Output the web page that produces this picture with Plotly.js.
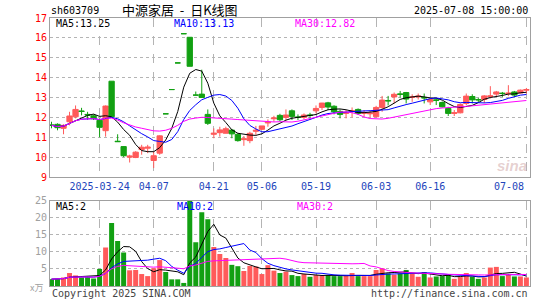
<!DOCTYPE html>
<html><head><meta charset="utf-8">
<script src="https://cdn.plot.ly/plotly-3.0.1.min.js"></script>
<style>html,body{margin:0;padding:0;background:#fff}#chart{width:545px;height:300px}</style>
</head><body><div id="chart"></div>
<script>
const dates = ['2025-03-12','2025-03-13','2025-03-14','2025-03-17','2025-03-18','2025-03-19','2025-03-20','2025-03-21','2025-03-24','2025-03-25',
'2025-03-26','2025-03-27','2025-03-28','2025-03-31','2025-04-01','2025-04-02','2025-04-03','2025-04-07','2025-04-08','2025-04-09',
'2025-04-10','2025-04-11','2025-04-14','2025-04-15','2025-04-16','2025-04-17','2025-04-18','2025-04-21','2025-04-22','2025-04-23',
'2025-04-24','2025-04-25','2025-04-28','2025-04-29','2025-04-30','2025-05-06','2025-05-07','2025-05-08','2025-05-09','2025-05-12',
'2025-05-13','2025-05-14','2025-05-15','2025-05-16','2025-05-19','2025-05-20','2025-05-21','2025-05-22','2025-05-23','2025-05-26',
'2025-05-27','2025-05-28','2025-05-29','2025-05-30','2025-06-03','2025-06-04','2025-06-05','2025-06-06','2025-06-09','2025-06-10',
'2025-06-11','2025-06-12','2025-06-13','2025-06-16','2025-06-17','2025-06-18','2025-06-19','2025-06-20','2025-06-23','2025-06-24',
'2025-06-25','2025-06-26','2025-06-27','2025-06-30','2025-07-01','2025-07-02','2025-07-03','2025-07-04','2025-07-07','2025-07-08'];

const openP = [11.62,11.65,11.45,11.78,12.03,12.32,12.15,12.08,11.85,11.33,
13.82,10.80,10.53,10.00,9.98,10.38,10.45,9.83,10.20,12.18,
13.40,14.74,16.21,16.03,13.12,13.17,12.15,11.15,11.23,11.20,
11.36,11.15,10.88,10.83,11.30,11.40,11.72,11.93,12.10,12.00,
12.33,12.02,12.00,12.12,12.33,12.50,12.73,12.56,12.30,12.20,
12.30,12.40,12.20,12.18,12.03,12.50,12.85,13.03,13.18,13.25,
13.00,13.03,13.00,12.78,12.88,12.75,12.45,12.20,12.23,12.70,
13.05,12.90,12.90,13.05,13.17,13.22,13.20,13.28,13.23,13.37];
const highP = [11.78,11.70,11.65,12.28,12.60,12.48,12.28,12.15,11.95,12.60,
13.82,11.15,10.56,10.12,10.30,10.62,10.62,10.28,11.10,12.18,
13.40,14.74,16.21,16.03,13.30,14.40,12.40,11.45,11.53,11.53,
11.42,11.20,11.06,11.28,11.57,11.57,11.90,12.08,12.18,12.40,
12.40,12.15,12.20,12.23,12.60,12.73,12.78,12.61,12.40,12.37,
12.50,12.45,12.37,12.33,12.58,13.08,13.08,13.25,13.33,13.28,
13.16,13.20,13.20,12.95,12.95,12.80,12.53,12.37,12.70,13.20,
13.16,12.98,13.12,13.57,13.33,13.28,13.62,13.33,13.40,13.48];
const lowP = [11.45,11.35,11.15,11.60,11.95,12.10,11.88,11.87,11.00,11.03,
12.00,10.78,10.00,9.73,9.95,10.12,10.20,9.45,10.12,12.18,
13.40,14.74,16.21,14.57,13.12,13.00,11.62,10.95,11.03,11.20,
10.95,10.78,10.57,10.70,11.12,11.37,11.53,11.78,11.80,11.85,
11.87,11.87,11.90,11.98,12.20,12.37,12.37,12.15,11.95,11.95,
12.00,12.12,12.03,12.00,12.00,12.28,12.60,12.70,13.00,12.70,
12.78,12.90,12.70,12.62,12.62,12.50,12.07,12.07,12.20,12.62,
12.70,12.75,12.72,12.95,13.07,13.03,13.07,13.03,13.20,13.20];
const closeP = [11.60,11.48,11.60,12.07,12.40,12.30,12.12,11.93,11.50,12.57,
12.03,10.78,10.07,10.05,10.25,10.50,10.50,10.07,11.07,12.18,
13.40,14.74,16.21,14.57,13.12,13.00,11.70,11.20,11.37,11.43,
11.17,10.83,10.92,11.20,11.35,11.57,11.76,11.97,11.88,12.12,
12.05,12.00,12.12,12.10,12.45,12.72,12.52,12.28,12.15,12.25,
12.33,12.20,12.25,12.22,12.50,12.87,12.83,13.16,13.16,12.92,
13.03,13.07,12.98,12.90,12.86,12.53,12.20,12.23,12.65,13.07,
12.88,12.88,13.08,13.08,13.28,13.20,13.22,13.12,13.37,13.40];
const volume = [2.0,2.0,2.5,3.8,3.1,2.5,2.6,2.2,5.0,11.3,
18.5,13.2,9.8,4.6,4.7,3.5,2.9,5.2,7.6,4.1,
1.95,1.95,0.9,25.0,12.8,21.6,19.6,11.4,9.4,8.2,
6.2,5.8,4.4,5.9,5.7,3.5,6.1,4.5,3.8,4.2,
3.2,2.9,3.5,2.7,3.2,3.1,3.2,2.9,2.9,3.0,
3.8,2.9,2.9,2.9,4.7,5.2,3.7,3.3,3.7,4.7,
3.7,2.7,4.1,2.5,2.8,2.9,3.4,2.1,2.6,3.8,
2.7,2.1,2.5,5.4,5.6,2.9,3.4,2.8,2.8,2.5];

const tickDates = ['2025-03-24','2025-04-07','2025-04-21','2025-05-06','2025-05-19','2025-06-03','2025-06-16','2025-07-08'];
const tickLabels = ['2025-03-24','04-07','04-21','05-06','05-19','06-03','06-16',''];
const lastTickLabel = '07-08';
const priceTicks = [9,10,11,12,13,14,15,16,17];
const volTicks = [5,10,15,20,25];

const RED = '#ff5a5a', GREEN = '#12a012';
const MONO = 'DejaVu Sans Mono, monospace';
const TICKBLUE = '#2244bb';

function movingAvg(arr, n) {
  return arr.map((_, i) => {
    const s = Math.max(0, i - n + 1);
    let sum = 0;
    for (let j = s; j <= i; j++) sum += arr[j];
    return sum / (i - s + 1);
  });
}

const upIdx = [], dnIdx = [];
closeP.forEach((c, i) => (c > openP[i] ? upIdx : dnIdx).push(i));
function pick(arr, idx) { return idx.map(i => arr[i]); }
function candle(idx, col) {
  return {
    type: 'candlestick', xaxis: 'x', yaxis: 'y',
    x: pick(dates, idx), open: pick(openP, idx), high: pick(highP, idx),
    low: pick(lowP, idx), close: pick(closeP, idx),
    increasing: {line: {color: col, width: 1}, fillcolor: col},
    decreasing: {line: {color: col, width: 1}, fillcolor: col},
    whiskerwidth: 0, hoverinfo: 'skip', showlegend: false
  };
}
function maLine(vals, col, xa, ya) {
  return {type: 'scatter', mode: 'lines', x: dates, y: vals, xaxis: xa, yaxis: ya,
    line: {color: col, width: 1}, hoverinfo: 'skip', showlegend: false};
}

const traces = [
  candle(upIdx, RED), candle(dnIdx, GREEN),
  maLine(movingAvg(closeP, 5), '#000000', 'x', 'y'),
  maLine(movingAvg(closeP, 10), '#0000ff', 'x', 'y'),
  maLine(movingAvg(closeP, 30), '#ff00ff', 'x', 'y'),
  {type: 'bar', x: dates, y: volume, xaxis: 'x2', yaxis: 'y2',
   marker: {color: closeP.map((c, i) => c > openP[i] ? RED : GREEN), line: {width: 0}},
   hoverinfo: 'skip', showlegend: false},
  maLine(movingAvg(volume, 5), '#000000', 'x2', 'y2'),
  maLine(movingAvg(volume, 10), '#0000ff', 'x2', 'y2'),
  maLine(movingAvg(volume, 30), '#ff00ff', 'x2', 'y2')
];

const ax = px => (px - 50) / 480;
const ay = py => (286 - py) / 268;
function note(text, px, py, anchor, size, color, family) {
  return {text: text, xref: 'paper', yref: 'paper', x: ax(px), y: ay(py),
    xanchor: anchor, yanchor: 'middle', showarrow: false,
    font: {family: family || MONO, size: size, color: color}};
}

const xBase = {
  type: 'category', categoryorder: 'array', categoryarray: dates,
  range: [-0.25, 79.6], tickvals: tickDates, ticktext: tickLabels,
  showgrid: true, gridcolor: '#b4b4b4', griddash: 'dash', gridwidth: 1,
  showline: true, mirror: true, linecolor: '#a0a0a0', linewidth: 1,
  ticks: '', fixedrange: true, rangeslider: {visible: false}
};

const layout = {
  width: 545, height: 300,
  margin: {l: 50, r: 15, t: 18, b: 14},
  paper_bgcolor: '#ffffff', plot_bgcolor: '#ffffff',
  showlegend: false, boxgap: 0.12, boxgroupgap: 0, bargap: 0.17,
  xaxis: Object.assign({}, xBase, {anchor: 'y',
    tickfont: {family: MONO, size: 10, color: TICKBLUE}}),
  yaxis: {domain: [0.4067, 1], range: [9, 17], tickvals: priceTicks,
    tickfont: {family: MONO, size: 10, color: '#ff0000'},
    showgrid: true, gridcolor: '#b4b4b4', griddash: 'dot', zeroline: false,
    showline: true, mirror: true, linecolor: '#a0a0a0', ticks: '', fixedrange: true},
  xaxis2: Object.assign({}, xBase, {anchor: 'y2', showticklabels: false}),
  yaxis2: {domain: [0, 0.3183], range: [0, 25], tickvals: volTicks,
    tickfont: {family: MONO, size: 10, color: '#a0a0a0'},
    showgrid: true, gridcolor: '#b4b4b4', griddash: 'dot', zeroline: false,
    showline: true, mirror: true, linecolor: '#a0a0a0', ticks: '', fixedrange: true},
  annotations: [
    {text: lastTickLabel, xref: 'x', yref: 'paper', x: tickDates[tickDates.length - 1], y: ay(186),
     xanchor: 'right', yanchor: 'middle', showarrow: false,
     font: {family: MONO, size: 10, color: TICKBLUE}},
    note('sh603709', 49, 11, 'left', 10, '#000'),
    note('中源家居&nbsp;&nbsp;-&nbsp;&nbsp;日K线图', 120, 10, 'left', 13, '#000', 'Noto Sans CJK SC'),
    note('2025-07-08 15:00:00', 530, 11, 'right', 10, '#000'),
    note('MA5:13.25', 54, 24, 'left', 10, '#000'),
    note('MA10:13.13', 172, 24, 'left', 10, '#0000ff'),
    note('MA30:12.82', 293, 24, 'left', 10, '#ff00ff'),
    note('MA5:2', 54, 206, 'left', 10, '#000'),
    note('MA10:2', 175, 206, 'left', 10, '#0000ff'),
    note('MA30:2', 295, 206, 'left', 10, '#ff00ff'),
    note('x万', 28, 287, 'left', 9, '#a0a0a0', 'Noto Sans CJK SC'),
    note('Copyright 2025 SINA.COM', 50, 293, 'left', 10, '#444'),
    note('http://finance.sina.com.cn', 530, 293, 'right', 10, '#444'),
    note('<b><i>sina</i></b>', 512, 165, 'center', 15, 'rgba(200,150,150,0.45)', 'Liberation Sans')
  ]
};

Plotly.newPlot('chart', traces, layout, {staticPlot: true, displayModeBar: false});
</script></body></html>
